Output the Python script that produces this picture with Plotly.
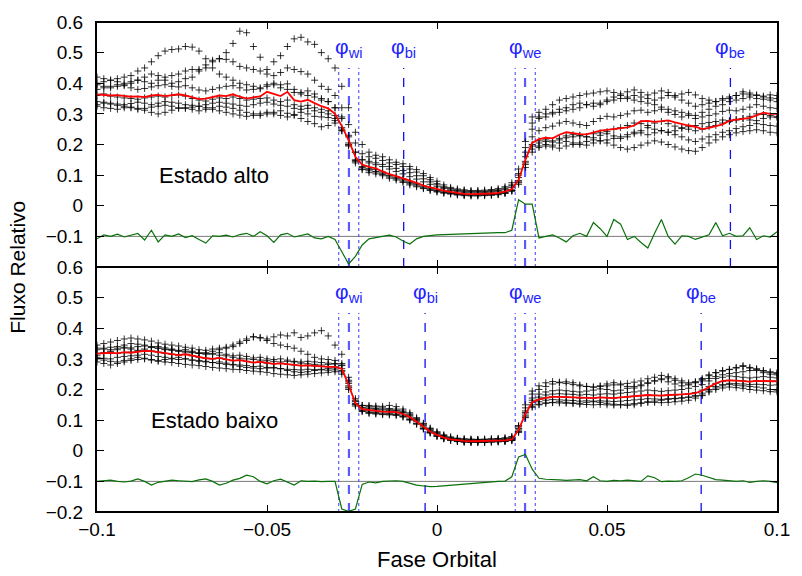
import numpy as np
import plotly.graph_objects as go
from plotly.subplots import make_subplots

# Orbital phase grid shared by every light curve (step 0.002)
PHASE = np.round(np.linspace(-0.1, 0.1, 101), 3)

# ---------------- High state ("Estado alto") ----------------
ALTO_1 = [0.400,0.405,0.410,0.415,0.420,0.425,0.440,0.450,0.470,0.490,
          0.505,0.510,0.512,0.520,0.518,0.505,0.480,0.450,0.430,0.420,
          0.410,0.400,0.395,0.390,0.385,0.390,0.395,0.385,0.380,0.370,
          0.365,0.360,0.355,0.345,0.340,0.320,0.290,0.230,0.175,0.150,
          0.145,0.140,0.135,0.128,0.122,0.115,0.108,0.098,0.088,0.078,
          0.068,0.060,0.054,0.050,0.047,0.045,0.045,0.046,0.047,0.050,
          0.055,0.065,0.100,0.175,0.250,0.285,0.290,0.300,0.305,0.310,
          0.315,0.320,0.330,0.335,0.330,0.340,0.345,0.350,0.355,0.360,
          0.355,0.350,0.345,0.352,0.360,0.355,0.345,0.335,0.325,0.330,
          0.335,0.340,0.350,0.355,0.360,0.365,0.362,0.360,0.355,0.352,0.350]
ALTO_2 = [0.380,0.385,0.390,0.395,0.400,0.405,0.410,0.405,0.400,0.410,
          0.420,0.425,0.430,0.440,0.445,0.445,0.460,0.475,0.480,0.500,
          0.530,0.570,0.565,0.520,0.485,0.445,0.470,0.490,0.520,0.545,
          0.550,0.535,0.527,0.500,0.480,0.450,0.390,0.320,0.240,0.200,
          0.175,0.165,0.160,0.150,0.142,0.137,0.128,0.118,0.105,0.092,
          0.080,0.068,0.060,0.055,0.052,0.050,0.050,0.051,0.053,0.056,
          0.062,0.075,0.120,0.210,0.290,0.305,0.315,0.330,0.345,0.350,
          0.355,0.360,0.365,0.368,0.372,0.375,0.370,0.365,0.372,0.378,
          0.370,0.362,0.368,0.375,0.370,0.360,0.365,0.370,0.362,0.350,
          0.345,0.340,0.345,0.350,0.360,0.372,0.368,0.362,0.358,0.362,0.360]
ALTO_3 = [0.420,0.415,0.410,0.405,0.395,0.400,0.410,0.420,0.430,0.425,
          0.410,0.400,0.405,0.415,0.420,0.440,0.450,0.470,0.480,0.478,
          0.470,0.455,0.450,0.445,0.440,0.430,0.425,0.435,0.450,0.445,
          0.438,0.430,0.410,0.390,0.380,0.360,0.320,0.265,0.205,0.170,
          0.160,0.155,0.148,0.140,0.135,0.128,0.120,0.110,0.098,0.085,
          0.072,0.062,0.056,0.052,0.049,0.047,0.047,0.048,0.050,0.052,
          0.058,0.068,0.105,0.190,0.270,0.290,0.300,0.305,0.315,0.320,
          0.330,0.335,0.330,0.325,0.335,0.345,0.355,0.360,0.350,0.345,
          0.340,0.335,0.330,0.322,0.315,0.310,0.305,0.300,0.295,0.305,
          0.315,0.325,0.330,0.340,0.345,0.350,0.355,0.350,0.348,0.345,0.340]
ALTO_4 = [0.395,0.390,0.385,0.390,0.392,0.385,0.380,0.383,0.388,0.392,
          0.395,0.390,0.388,0.392,0.385,0.378,0.375,0.380,0.385,0.390,
          0.392,0.385,0.378,0.380,0.382,0.395,0.400,0.395,0.398,0.380,
          0.370,0.375,0.365,0.350,0.340,0.320,0.285,0.225,0.175,0.150,
          0.140,0.134,0.128,0.120,0.112,0.104,0.095,0.087,0.078,0.070,
          0.062,0.056,0.050,0.046,0.043,0.042,0.042,0.043,0.044,0.047,
          0.052,0.060,0.092,0.160,0.225,0.245,0.255,0.260,0.270,0.275,
          0.270,0.265,0.262,0.275,0.285,0.292,0.290,0.295,0.300,0.310,
          0.312,0.305,0.310,0.315,0.305,0.298,0.290,0.295,0.285,0.290,
          0.295,0.300,0.308,0.312,0.310,0.315,0.322,0.330,0.325,0.320,0.318]
ALTO_5 = [0.360,0.365,0.358,0.355,0.352,0.350,0.348,0.352,0.355,0.358,
          0.355,0.360,0.362,0.358,0.350,0.345,0.342,0.348,0.352,0.350,
          0.355,0.350,0.345,0.348,0.350,0.352,0.345,0.340,0.345,0.330,
          0.325,0.328,0.320,0.315,0.310,0.295,0.255,0.205,0.150,0.128,
          0.122,0.118,0.110,0.100,0.094,0.088,0.080,0.073,0.064,0.058,
          0.052,0.048,0.044,0.040,0.038,0.037,0.037,0.038,0.039,0.041,
          0.045,0.052,0.082,0.145,0.200,0.212,0.215,0.212,0.220,0.228,
          0.232,0.228,0.225,0.235,0.238,0.242,0.250,0.255,0.262,0.270,
          0.268,0.262,0.270,0.275,0.268,0.260,0.255,0.250,0.245,0.250,
          0.258,0.262,0.270,0.275,0.280,0.285,0.292,0.300,0.298,0.295,0.292]
ALTO_6 = [0.340,0.338,0.335,0.332,0.330,0.334,0.338,0.335,0.330,0.335,
          0.340,0.338,0.335,0.330,0.328,0.325,0.330,0.335,0.338,0.335,
          0.332,0.328,0.325,0.330,0.335,0.338,0.332,0.328,0.325,0.318,
          0.315,0.318,0.310,0.305,0.300,0.285,0.245,0.195,0.140,0.120,
          0.114,0.110,0.102,0.094,0.088,0.080,0.072,0.065,0.058,0.052,
          0.047,0.043,0.040,0.037,0.035,0.034,0.034,0.035,0.036,0.038,
          0.042,0.050,0.075,0.135,0.185,0.195,0.200,0.198,0.205,0.210,
          0.205,0.200,0.198,0.205,0.212,0.215,0.220,0.225,0.232,0.240,
          0.238,0.232,0.238,0.245,0.240,0.232,0.225,0.215,0.210,0.218,
          0.225,0.232,0.240,0.245,0.252,0.258,0.262,0.268,0.265,0.262,0.260]
ALTO_7 = [0.325,0.320,0.318,0.315,0.320,0.322,0.318,0.312,0.305,0.300,
          0.305,0.312,0.318,0.320,0.315,0.310,0.315,0.320,0.325,0.322,
          0.318,0.312,0.305,0.300,0.295,0.300,0.305,0.310,0.302,0.295,
          0.285,0.275,0.268,0.258,0.262,0.270,0.245,0.200,0.145,0.118,
          0.108,0.104,0.098,0.090,0.084,0.076,0.068,0.062,0.056,0.050,
          0.045,0.041,0.038,0.035,0.033,0.032,0.032,0.033,0.034,0.036,
          0.040,0.047,0.070,0.125,0.175,0.190,0.195,0.192,0.188,0.195,
          0.200,0.205,0.210,0.215,0.212,0.205,0.198,0.190,0.185,0.190,
          0.198,0.205,0.212,0.208,0.200,0.192,0.185,0.180,0.178,0.190,
          0.205,0.215,0.225,0.232,0.238,0.242,0.245,0.248,0.245,0.240,0.238]
ALTO_8 = [0.330,0.335,0.332,0.328,0.325,0.320,0.315,0.318,0.322,0.325,
          0.328,0.325,0.320,0.318,0.322,0.325,0.320,0.315,0.310,0.305,
          0.300,0.296,0.292,0.295,0.300,0.305,0.300,0.295,0.290,0.298,
          0.305,0.300,0.292,0.290,0.288,0.278,0.250,0.198,0.148,0.125,
          0.118,0.112,0.106,0.098,0.091,0.084,0.076,0.069,0.061,0.055,
          0.050,0.045,0.042,0.039,0.037,0.036,0.036,0.036,0.037,0.039,
          0.043,0.050,0.078,0.140,0.195,0.205,0.210,0.208,0.215,0.222,
          0.225,0.230,0.225,0.222,0.230,0.235,0.228,0.220,0.225,0.235,
          0.245,0.255,0.250,0.245,0.240,0.245,0.252,0.258,0.262,0.268,
          0.272,0.275,0.280,0.278,0.282,0.285,0.280,0.278,0.285,0.290,0.288]

ALTO_MEAN = [0.364,0.362,0.360,0.361,0.358,0.356,0.357,0.355,0.360,0.362,
             0.358,0.362,0.364,0.360,0.355,0.348,0.350,0.356,0.360,0.358,
             0.364,0.356,0.350,0.354,0.357,0.372,0.365,0.358,0.372,0.345,
             0.340,0.346,0.335,0.325,0.318,0.300,0.260,0.214,0.160,0.134,
             0.127,0.122,0.112,0.103,0.097,0.090,0.082,0.075,0.066,0.060,
             0.054,0.049,0.045,0.041,0.039,0.038,0.038,0.039,0.040,0.042,
             0.046,0.054,0.085,0.150,0.205,0.218,0.222,0.220,0.232,0.240,
             0.236,0.234,0.233,0.240,0.245,0.248,0.250,0.252,0.256,0.262,
             0.276,0.277,0.274,0.276,0.279,0.272,0.266,0.262,0.258,0.250,
             0.254,0.260,0.266,0.278,0.281,0.284,0.287,0.295,0.304,0.300,0.300]

ALTO_RESID = [-0.108,-0.095,-0.100,-0.093,-0.102,-0.097,-0.090,-0.112,-0.080,-0.118,
              -0.095,-0.100,-0.092,-0.104,-0.098,-0.110,-0.122,-0.098,-0.100,-0.096,
              -0.102,-0.094,-0.090,-0.100,-0.085,-0.098,-0.120,-0.095,-0.090,-0.102,
              -0.098,-0.092,-0.105,-0.108,-0.100,-0.110,-0.150,-0.190,-0.165,-0.128,
              -0.108,-0.104,-0.098,-0.096,-0.102,-0.115,-0.125,-0.108,-0.100,-0.097,
              -0.095,-0.094,-0.093,-0.092,-0.092,-0.091,-0.090,-0.090,-0.089,-0.088,
              -0.088,-0.080,0.020,0.005,0.005,-0.105,-0.100,-0.095,-0.105,-0.118,
              -0.098,-0.090,-0.100,-0.055,-0.075,-0.100,-0.045,-0.060,-0.110,-0.100,
              -0.120,-0.138,-0.090,-0.045,-0.100,-0.125,-0.098,-0.100,-0.110,-0.102,
              -0.095,-0.055,-0.098,-0.090,-0.100,-0.098,-0.072,-0.110,-0.098,-0.102,-0.085]

# ---------------- Low state ("Estado baixo") ----------------
BAIXO_1 = [0.345,0.350,0.355,0.360,0.365,0.368,0.365,0.362,0.358,0.352,
           0.348,0.345,0.342,0.338,0.335,0.330,0.328,0.332,0.335,0.338,
           0.345,0.355,0.365,0.372,0.370,0.365,0.372,0.378,0.375,0.385,
           0.370,0.375,0.385,0.392,0.375,0.345,0.315,0.240,0.170,0.148,
           0.145,0.143,0.140,0.138,0.136,0.130,0.120,0.105,0.088,0.072,
           0.060,0.050,0.044,0.040,0.038,0.037,0.037,0.037,0.038,0.039,
           0.041,0.045,0.080,0.140,0.185,0.200,0.210,0.218,0.222,0.225,
           0.222,0.215,0.210,0.208,0.212,0.218,0.222,0.215,0.210,0.205,
           0.212,0.220,0.228,0.235,0.242,0.235,0.228,0.222,0.225,0.232,
           0.245,0.255,0.262,0.265,0.270,0.275,0.272,0.268,0.262,0.258,0.255]
BAIXO_2 = [0.330,0.335,0.338,0.340,0.345,0.350,0.348,0.345,0.340,0.335,
           0.330,0.328,0.325,0.322,0.320,0.318,0.320,0.325,0.330,0.335,
           0.340,0.350,0.360,0.372,0.368,0.360,0.350,0.345,0.340,0.335,
           0.325,0.315,0.305,0.300,0.298,0.295,0.285,0.225,0.162,0.142,
           0.140,0.138,0.136,0.134,0.132,0.127,0.117,0.102,0.085,0.069,
           0.057,0.048,0.041,0.037,0.035,0.034,0.034,0.034,0.035,0.036,
           0.038,0.042,0.074,0.130,0.172,0.185,0.192,0.196,0.198,0.196,
           0.194,0.192,0.195,0.198,0.202,0.200,0.196,0.198,0.204,0.210,
           0.215,0.222,0.228,0.232,0.225,0.218,0.212,0.215,0.222,0.228,
           0.236,0.242,0.248,0.252,0.255,0.258,0.262,0.265,0.260,0.255,0.252]
BAIXO_3 = [0.335,0.332,0.330,0.335,0.338,0.336,0.340,0.342,0.338,0.335,
           0.332,0.330,0.326,0.330,0.325,0.318,0.315,0.318,0.320,0.315,
           0.310,0.312,0.308,0.303,0.305,0.300,0.298,0.300,0.296,0.292,
           0.290,0.292,0.290,0.288,0.286,0.285,0.278,0.220,0.160,0.140,
           0.137,0.135,0.133,0.132,0.130,0.125,0.114,0.099,0.082,0.066,
           0.055,0.046,0.040,0.036,0.034,0.033,0.033,0.033,0.034,0.035,
           0.036,0.040,0.072,0.125,0.165,0.175,0.182,0.185,0.186,0.185,
           0.184,0.182,0.184,0.182,0.185,0.186,0.185,0.188,0.190,0.192,
           0.195,0.198,0.196,0.194,0.196,0.198,0.200,0.204,0.210,0.216,
           0.228,0.236,0.240,0.244,0.242,0.240,0.238,0.240,0.242,0.240,0.238]
BAIXO_4 = [0.318,0.320,0.322,0.318,0.320,0.322,0.325,0.328,0.326,0.322,
           0.318,0.315,0.312,0.315,0.310,0.305,0.302,0.300,0.303,0.298,
           0.294,0.296,0.292,0.288,0.290,0.286,0.284,0.285,0.282,0.280,
           0.278,0.279,0.277,0.275,0.274,0.274,0.268,0.212,0.154,0.136,
           0.132,0.130,0.128,0.127,0.126,0.120,0.110,0.095,0.078,0.063,
           0.052,0.043,0.037,0.034,0.032,0.031,0.031,0.031,0.032,0.033,
           0.034,0.037,0.068,0.120,0.158,0.168,0.173,0.176,0.176,0.175,
           0.174,0.172,0.173,0.172,0.174,0.173,0.172,0.174,0.176,0.178,
           0.180,0.182,0.181,0.180,0.182,0.182,0.184,0.186,0.190,0.198,
           0.210,0.220,0.226,0.230,0.229,0.228,0.226,0.228,0.227,0.226,0.227]
BAIXO_5 = [0.305,0.302,0.300,0.305,0.308,0.310,0.312,0.315,0.312,0.308,
           0.305,0.300,0.298,0.300,0.296,0.292,0.290,0.288,0.290,0.286,
           0.282,0.280,0.278,0.275,0.276,0.272,0.270,0.268,0.266,0.265,
           0.264,0.266,0.265,0.264,0.263,0.264,0.258,0.205,0.150,0.132,
           0.127,0.125,0.123,0.122,0.120,0.114,0.104,0.090,0.074,0.060,
           0.049,0.041,0.035,0.032,0.030,0.029,0.029,0.029,0.030,0.031,
           0.032,0.035,0.064,0.114,0.150,0.160,0.165,0.167,0.166,0.165,
           0.164,0.162,0.163,0.162,0.163,0.162,0.161,0.162,0.164,0.166,
           0.168,0.170,0.169,0.168,0.170,0.171,0.173,0.175,0.180,0.188,
           0.200,0.210,0.216,0.220,0.219,0.218,0.216,0.217,0.216,0.214,0.215]
BAIXO_6 = [0.290,0.285,0.280,0.285,0.290,0.295,0.298,0.300,0.296,0.292,
           0.290,0.288,0.285,0.282,0.280,0.278,0.275,0.272,0.270,0.268,
           0.266,0.265,0.262,0.260,0.258,0.256,0.252,0.250,0.248,0.246,
           0.248,0.250,0.252,0.254,0.256,0.258,0.250,0.200,0.146,0.128,
           0.122,0.120,0.118,0.117,0.115,0.110,0.100,0.087,0.071,0.058,
           0.047,0.039,0.034,0.030,0.028,0.027,0.027,0.027,0.028,0.029,
           0.030,0.033,0.060,0.108,0.142,0.150,0.155,0.157,0.156,0.155,
           0.154,0.152,0.151,0.150,0.151,0.150,0.149,0.150,0.152,0.154,
           0.156,0.158,0.158,0.157,0.158,0.160,0.162,0.165,0.172,0.180,
           0.192,0.200,0.205,0.208,0.206,0.204,0.200,0.198,0.196,0.193,0.192]
BAIXO_7 = [0.312,0.318,0.325,0.330,0.335,0.332,0.328,0.332,0.338,0.340,
           0.336,0.332,0.328,0.325,0.322,0.320,0.318,0.315,0.312,0.310,
           0.305,0.302,0.300,0.298,0.296,0.294,0.292,0.290,0.292,0.290,
           0.286,0.284,0.282,0.280,0.282,0.283,0.280,0.230,0.165,0.148,
           0.148,0.146,0.145,0.148,0.144,0.136,0.124,0.108,0.090,0.074,
           0.062,0.052,0.045,0.041,0.039,0.038,0.037,0.038,0.039,0.040,
           0.042,0.046,0.082,0.150,0.195,0.212,0.222,0.226,0.224,0.220,
           0.216,0.212,0.210,0.208,0.210,0.212,0.215,0.218,0.220,0.224,
           0.228,0.235,0.240,0.246,0.238,0.230,0.222,0.218,0.224,0.236,
           0.248,0.255,0.260,0.266,0.272,0.278,0.270,0.262,0.255,0.250,0.248]
BAIXO_8 = [0.300,0.296,0.292,0.290,0.295,0.300,0.305,0.302,0.298,0.295,
           0.298,0.302,0.305,0.300,0.296,0.295,0.292,0.288,0.285,0.282,
           0.280,0.276,0.272,0.270,0.268,0.270,0.272,0.268,0.262,0.258,
           0.256,0.258,0.262,0.266,0.268,0.270,0.262,0.208,0.152,0.130,
           0.125,0.122,0.120,0.119,0.118,0.112,0.102,0.088,0.072,0.059,
           0.048,0.040,0.035,0.031,0.029,0.028,0.028,0.028,0.029,0.030,
           0.031,0.034,0.062,0.110,0.145,0.152,0.156,0.158,0.160,0.158,
           0.156,0.155,0.158,0.160,0.158,0.155,0.152,0.150,0.148,0.150,
           0.155,0.160,0.162,0.165,0.168,0.170,0.172,0.175,0.178,0.182,
           0.195,0.205,0.212,0.216,0.214,0.212,0.210,0.208,0.205,0.200,0.198]

BAIXO_MEAN = [0.317,0.318,0.320,0.318,0.322,0.320,0.323,0.326,0.325,0.322,
              0.318,0.315,0.312,0.315,0.310,0.305,0.302,0.300,0.303,0.298,
              0.294,0.296,0.292,0.288,0.290,0.286,0.284,0.285,0.282,0.280,
              0.278,0.279,0.277,0.275,0.274,0.274,0.268,0.215,0.155,0.136,
              0.132,0.130,0.128,0.127,0.126,0.120,0.110,0.095,0.078,0.063,
              0.052,0.043,0.037,0.034,0.032,0.031,0.031,0.031,0.032,0.033,
              0.034,0.037,0.068,0.120,0.158,0.168,0.173,0.176,0.176,0.175,
              0.174,0.172,0.173,0.172,0.174,0.173,0.172,0.174,0.176,0.178,
              0.180,0.182,0.181,0.180,0.182,0.182,0.184,0.186,0.188,0.196,
              0.208,0.220,0.228,0.230,0.229,0.228,0.226,0.228,0.227,0.226,0.227]

BAIXO_RESID = [-0.100,-0.098,-0.096,-0.100,-0.102,-0.099,-0.092,-0.100,-0.112,-0.103,
               -0.100,-0.096,-0.098,-0.100,-0.101,-0.095,-0.092,-0.100,-0.112,-0.106,
               -0.096,-0.090,-0.080,-0.085,-0.100,-0.108,-0.098,-0.093,-0.102,-0.112,
               -0.098,-0.100,-0.099,-0.101,-0.100,-0.100,-0.190,-0.198,-0.190,-0.110,
               -0.102,-0.105,-0.100,-0.099,-0.098,-0.100,-0.106,-0.112,-0.115,-0.117,
               -0.116,-0.114,-0.112,-0.110,-0.108,-0.106,-0.104,-0.102,-0.101,-0.100,
               -0.099,-0.085,-0.020,-0.012,-0.060,-0.090,-0.093,-0.093,-0.095,-0.097,
               -0.096,-0.094,-0.098,-0.085,-0.098,-0.100,-0.097,-0.098,-0.096,-0.097,
               -0.100,-0.082,-0.088,-0.101,-0.099,-0.100,-0.098,-0.088,-0.076,-0.080,
               -0.088,-0.094,-0.096,-0.097,-0.100,-0.098,-0.103,-0.100,-0.098,-0.100,-0.104]

# Eclipse contact phases: white dwarf ingress/egress and bright spot ingress/egress
WD_INGRESS = [-0.0289, -0.0259, -0.0230]
WD_EGRESS = [0.0230, 0.0259, 0.0289]
BS_ALTO = {"bi": -0.0098, "be": 0.0863}
BS_BAIXO = {"bi": -0.0035, "be": 0.0777}

ALTO_CURVES = [ALTO_1, ALTO_2, ALTO_3, ALTO_4, ALTO_5, ALTO_6, ALTO_7, ALTO_8]
BAIXO_CURVES = [BAIXO_1, BAIXO_2, BAIXO_3, BAIXO_4, BAIXO_5, BAIXO_6, BAIXO_7, BAIXO_8]

FONT = "Liberation Sans, Arial, sans-serif"
BLUE = "#1f1fff"

fig = make_subplots(rows=2, cols=1, shared_xaxes=True, vertical_spacing=0)

panels = [
    (1, ALTO_CURVES, ALTO_MEAN, ALTO_RESID, BS_ALTO, "Estado alto"),
    (2, BAIXO_CURVES, BAIXO_MEAN, BAIXO_RESID, BS_BAIXO, "Estado baixo"),
]

for row, curves, mean, resid, bs, name in panels:
    for c in curves:
        fig.add_trace(go.Scatter(
            x=PHASE, y=c, mode="markers",
            marker=dict(symbol="cross-thin", size=5, color="#000000",
                        line=dict(width=1, color="rgba(0,0,0,0.8)")),
            showlegend=False, hoverinfo="skip"), row=row, col=1)
    fig.add_trace(go.Scatter(x=PHASE, y=mean, mode="lines",
                             line=dict(color="#ff0000", width=1.8),
                             showlegend=False), row=row, col=1)
    fig.add_trace(go.Scatter(x=PHASE, y=resid, mode="lines",
                             line=dict(color="#0a700a", width=1.2),
                             showlegend=False), row=row, col=1)

    yref = "y" if row == 1 else "y2"
    # reference level of the residual curve
    fig.add_shape(type="line", xref="x", yref=yref, x0=-0.1, x1=0.1, y0=-0.1, y1=-0.1,
                  line=dict(color="#7a7a7a", width=1), layer="below")
    # white dwarf contact phases
    for xs in (WD_INGRESS, WD_EGRESS):
        for k, xv in enumerate(xs):
            if k == 1:
                ln = dict(color="#5a5aff", width=2.2, dash="dash")
            else:
                ln = dict(color="#3a3aff", width=1, dash="dot")
            fig.add_shape(type="line", xref="x", yref=yref, x0=xv, x1=xv,
                          y0=-0.2, y1=0.45, line=ln, layer="below")
    # bright spot contact phases
    for xv in bs.values():
        fig.add_shape(type="line", xref="x", yref=yref, x0=xv, x1=xv,
                      y0=-0.2, y1=0.45, line=dict(color="#1010f0", width=1.3, dash="dash"),
                      layer="below")

    labels = [("wi", WD_INGRESS[1]), ("bi", bs["bi"]), ("we", WD_EGRESS[1]), ("be", bs["be"])]
    for sub, xv in labels:
        fig.add_annotation(x=xv, y=0.515, xref="x", yref=yref,
                           text="φ<sub>%s</sub>" % sub, showarrow=False,
                           font=dict(family=FONT, size=21, color=BLUE))
    fig.add_annotation(x=-0.0655, y=0.098, xref="x", yref=yref, text=name,
                       showarrow=False, font=dict(family=FONT, size=22, color="#000000"))

axis_common = dict(showline=True, linecolor="#000000", mirror="ticks",
                   ticks="inside", ticklen=7, tickwidth=1, tickcolor="#000000",
                   showgrid=False, zeroline=False,
                   tickfont=dict(family=FONT, size=19, color="#000000"))

fig.update_xaxes(range=[-0.1, 0.1], tickvals=[-0.1, -0.05, 0, 0.05, 0.1],
                 linewidth=1.2, **axis_common)
fig.update_xaxes(ticktext=["−0.1", "−0.05", "0", "0.05", "0.1"], row=2, col=1)
fig.update_xaxes(showticklabels=False, row=1, col=1)

fig.update_yaxes(range=[-0.2, 0.6], ticklabelstandoff=8, linewidth=2, **axis_common)
fig.update_yaxes(tickvals=[-0.1, 0, 0.1, 0.2, 0.3, 0.4, 0.5, 0.6],
                 ticktext=["−0.1", "0", "0.1", "0.2", "0.3", "0.4", "0.5", "0.6"], row=1, col=1)
fig.update_yaxes(tickvals=[-0.2, -0.1, 0, 0.1, 0.2, 0.3, 0.4, 0.5, 0.6],
                 ticktext=["−0.2", "−0.1", "0", "0.1", "0.2", "0.3", "0.4", "0.5", "0.6"],
                 row=2, col=1)

# outer top and bottom frame edges drawn a little heavier
for yv in (0, 1):
    fig.add_shape(type="line", xref="paper", yref="paper", x0=0, x1=1, y0=yv, y1=yv,
                  line=dict(color="#000000", width=2))

fig.add_annotation(text="Fluxo Relativo", xref="paper", yref="paper", x=-0.118, y=0.5,
                   textangle=-90, showarrow=False, xanchor="center", yanchor="middle",
                   font=dict(family=FONT, size=21, color="#000000"))
fig.add_annotation(text="Fase Orbital", xref="paper", yref="paper", x=0.5, y=-0.096,
                   showarrow=False, xanchor="center", yanchor="middle",
                   font=dict(family=FONT, size=22, color="#000000"))

fig.update_layout(width=802, height=576, margin=dict(l=97, r=19, t=12, b=64),
                  paper_bgcolor="white", plot_bgcolor="white", showlegend=False)

fig.write_html("out.html")
